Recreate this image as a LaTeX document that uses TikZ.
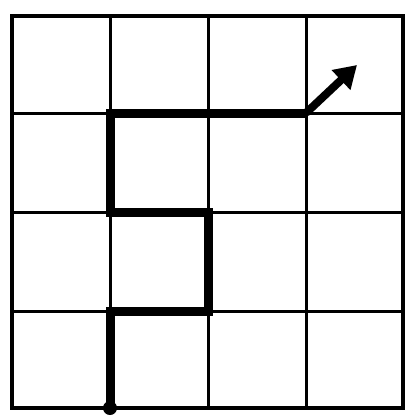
\documentclass[tikz,border=0pt]{standalone}
\usetikzlibrary{arrows.meta}
\begin{document}
\begin{tikzpicture}[x=1pt,y=-1pt,
  gridline/.style={line width=3pt,black},
  pathline/.style={line width=9pt,black,line join=miter},
  arrowline/.style={line width=8pt,black,-{Triangle[length=22pt,width=26pt]}}]
\useasboundingbox (0,0) rectangle (406,416);
% grid
\foreach \x in {110,208,306} \draw[gridline] (\x,16) -- (\x,408);
\foreach \y in {113,212,311} \draw[gridline] (12,\y) -- (403,\y);
\draw[line width=4pt] (12,16) rectangle (403,408);
% path
\coordinate (s) at (110,408);
\coordinate (a) at (110,311);
\coordinate (b) at (208,311);
\coordinate (c) at (208,212);
\coordinate (d) at (110,212);
\coordinate (e) at (110,113);
\coordinate (f) at (306,113);
\coordinate (t) at (357,65);
\draw[pathline] (s) -- (a) -- (b) -- (c) -- (d) -- (e) -- (f);
\draw[arrowline] (f) -- (t);
\fill (s) circle (7pt);
\end{tikzpicture}
\end{document}
